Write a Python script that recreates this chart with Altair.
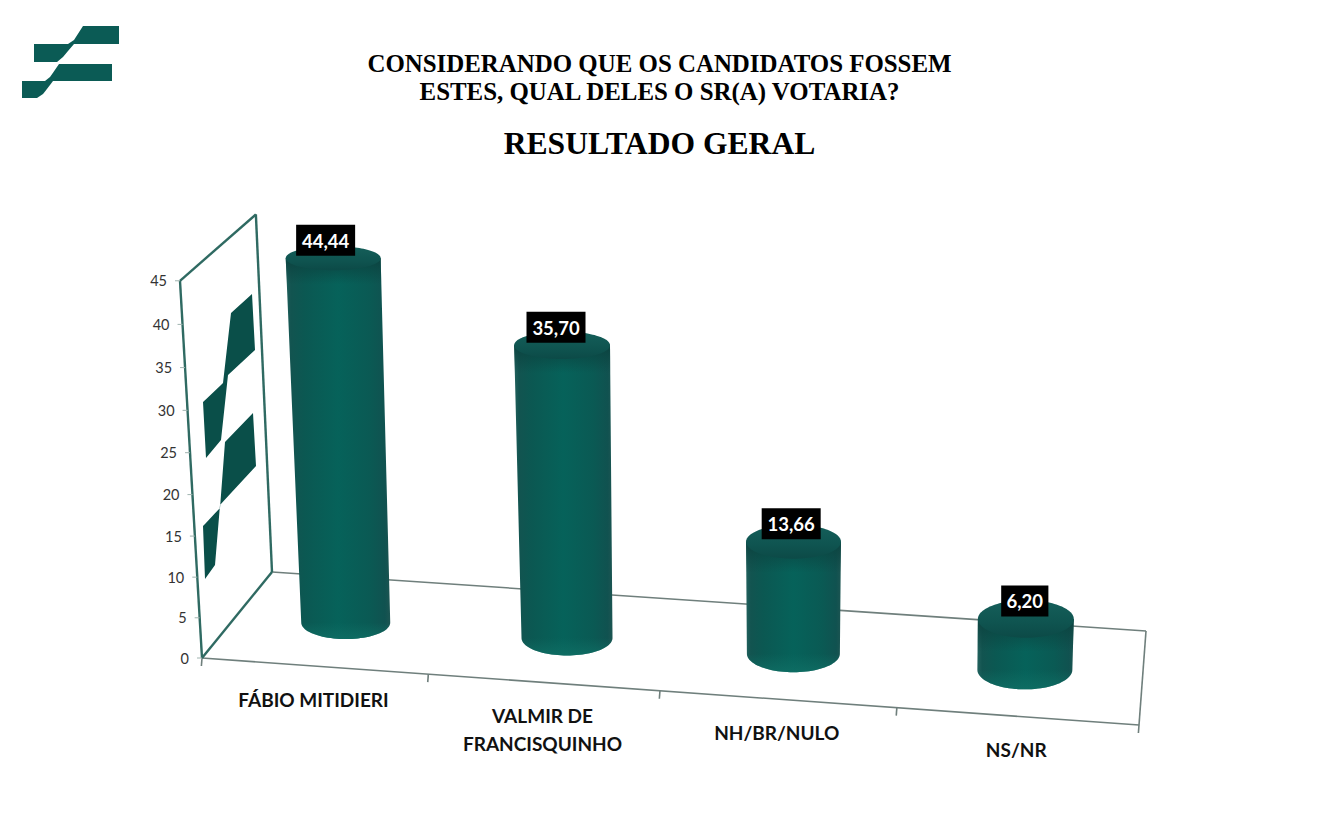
import altair as alt
import numpy as np
import pandas as pd

# ---- chart values ----
CATEGORIES = [["FÁBIO MITIDIERI"], ["VALMIR DE", "FRANCISQUINHO"], ["NH/BR/NULO"], ["NS/NR"]]
VALUES = [44.44, 35.70, 13.66, 6.20]
VALUE_LABELS = ["44,44", "35,70", "13,66", "6,20"]
Y_TICKS = [0, 5, 10, 15, 20, 25, 30, 35, 40, 45]
TITLE_LINES = ["CONSIDERANDO QUE OS CANDIDATOS FOSSEM", "ESTES, QUAL DELES O SR(A) VOTARIA?"]
SUBTITLE = "RESULTADO GERAL"

# ---- logo outlines (upper chain, lower chain) ----
LOGO = [
    ([(34, 44), (68, 44), (74, 40), (83, 26), (119, 26)], [(34, 62), (57, 62), (63, 57), (74, 44), (119, 44)]),
    ([(22, 81), (45, 81), (50, 77), (59, 64), (112, 64)], [(22, 98), (37, 98), (43, 94), (53, 81), (112, 81)]),
]
WALL_LOGO = [
    ([(203, 402), (223, 383), (231, 313), (252, 294), (255, 350)], [(203, 402), (206, 458), (221, 440), (228, 375), (255, 350)]),
    ([(203, 526), (220, 508), (225, 442), (253, 413), (256, 466)], [(203, 526), (205, 579), (215, 565), (220, 505), (256, 466)]),
]

# ---- projection of the 3-D scene ----
FL, FR, BL, BR = (202, 658), (1139, 725), (272, 572), (1146, 631)
W, H = 1304, 810
TEAL, FLOOR = "#2f6a62", "#6f7f7c"


def warp(u):
    return u - 0.045 * u * (1 - u)


def floor(u, d):
    u = warp(u)
    f = np.array(FL) + (np.array(FR) - np.array(FL)) * u
    b = np.array(BL) + (np.array(BR) - np.array(BL)) * u
    return f + (b - f) * d


def wall_y(v):
    return 8.0 * v + 0.0085 * v * v


def wall(v, d):
    base = np.array(FL) + (np.array(BL) - np.array(FL)) * d
    h = wall_y(v) * (1 - 0.052 * d)
    return base[0] - h * (22 - 5 * d) / 377, base[1] - h


X = lambda f: alt.X(f, type="quantitative", scale=alt.Scale(domain=[8, 8 + W], range=[0, W], nice=False, zero=False), axis=None)
Y = lambda f: alt.Y(f, type="quantitative", scale=alt.Scale(domain=[8, 8 + H], range=[0, H], nice=False, zero=False), axis=None)
layers = []


def rules(segs, color, width):
    df = pd.DataFrame(segs, columns=["x", "y", "x2", "y2"])
    layers.append(alt.Chart(df).mark_rule(color=color, strokeWidth=width).encode(
        x=X("x"), y=Y("y"), x2=alt.X2("x2"), y2=alt.Y2("y2")))


def shape(upper, lower, fill):
    xs = sorted({p[0] for p in upper} | {p[0] for p in lower})
    xs = np.array(xs, dtype=float)
    df = pd.DataFrame({
        "x": xs,
        "y": np.interp(xs, [p[0] for p in upper], [p[1] for p in upper]),
        "y2": np.interp(xs, [p[0] for p in lower], [p[1] for p in lower]),
    })
    layers.append(alt.Chart(df).mark_area(color=fill, interpolate="linear").encode(
        x=X("x"), y=Y("y"), y2=alt.Y2("y2")))


def hband(ys, left, right, fill):
    df = pd.DataFrame({"y": ys, "x": left, "x2": right})
    layers.append(alt.Chart(df).mark_area(color=fill, orient="horizontal", interpolate="linear").encode(
        y=Y("y"), x=X("x"), x2=alt.X2("x2")))


def grad(stops, vertical=False):
    return alt.Gradient(
        gradient="linear",
        stops=[alt.GradientStop(color=c, offset=o) for o, c in stops],
        x1=0, y1=0, x2=0 if vertical else 1, y2=1 if vertical else 0,
    )


BODY = grad([(0, "#23625e"), (0.05, "#125450"), (0.18, "#0b5852"), (0.5, "#06625a"),
             (0.8, "#0a5a54"), (0.95, "#105250"), (1, "#1d5552")])
CAP = grad([(0, "#155f5a"), (0.6, "#0f5450"), (1, "#0c4a47")], vertical=True)
SHADE = grad([(0, "rgba(11,66,63,0.95)"), (1, "rgba(11,66,63,0)")], vertical=True)
RIM = grad([(0, "rgba(16,112,102,0)"), (1, "rgba(16,112,102,0.75)")], vertical=True)

# ---- frame ----
floor_segs = [
    (*FL, *FR), (*BL, *BR), (*FR, *BR),
]
for u in [0, 0.25, 0.5, 0.75, 1]:
    p = floor(u, 0)
    floor_segs.append((p[0], p[1], p[0] - 0.6, p[1] + 8))
rules(floor_segs, FLOOR, 1.6)

wall_segs = [(*FL, *BL), (*FL, *wall(45, 0)), (*BL, *wall(45, 1)), (*wall(45, 0), *wall(45, 1))]
rules(wall_segs, TEAL, 2.4)
rules([(*wall(v, 0), wall(v, 0)[0] - 5, wall(v, 0)[1]) for v in Y_TICKS], "#9fb3af", 1)

for up, lo in WALL_LOGO:
    shape(up, lo, "#0a4f49")
for up, lo in LOGO:
    shape(up, lo, "#0b5b55")

# ---- cylinders ----
K = 8.2
boxes, box_text = [], []
for i, v in enumerate(VALUES):
    u = (i + 0.5) / len(VALUES)
    bx, by = floor(u, 0.5)
    tx = bx + (bx - 780) * 6.5e-4 * v
    ty = by - K * v
    rb = 44 + 4 * u
    rt = rb * (1 + 0.0015 * v)
    qb = 16 + 4 * u
    qt = qb * (1 - 0.006 * v)

    # body: straight sides, then lower half of the base ellipse
    ang = np.linspace(0, np.pi / 2, 24)[1:]
    ys1 = np.linspace(ty, by, 30)
    f = (ys1 - ty) / (by - ty)
    cx1, r1 = tx + (bx - tx) * f, rt + (rb - rt) * f
    ys2 = by + qb * np.sin(ang)
    cx2, r2 = bx + 0 * ang, rb * np.cos(ang)
    hband(np.r_[ys1, ys2], np.r_[cx1 - r1, cx2 - r2], np.r_[cx1 + r1, cx2 + r2], BODY)

    # soft shadow under the cap
    n = 24
    ys3 = np.linspace(ty, ty + qt + 14, n)
    f3 = (ys3 - ty) / (by - ty)
    hband(ys3, tx + (bx - tx) * f3 - (rt + (rb - rt) * f3), tx + (bx - tx) * f3 + (rt + (rb - rt) * f3), SHADE)

    # lighter rim at the bottom
    a0 = np.linspace(0, np.pi / 2, 24)[1:]
    hband(np.r_[by, by + qb * np.sin(a0)], np.r_[bx - rb, bx - rb * np.cos(a0)], np.r_[bx + rb, bx + rb * np.cos(a0)], RIM)

    # top ellipse
    a = np.linspace(-np.pi / 2, np.pi / 2, 60)
    hband(ty + qt * np.sin(a), tx - rt * np.cos(a), tx + rt * np.cos(a), CAP)

    # label box
    cx, cy = tx - 0.17 * v, ty - 18
    half = 11.8 * len(VALUE_LABELS[i]) / 2
    boxes.append({"x": cx - half, "x2": cx + half, "y": cy - 15.5, "y2": cy + 15.5})
    box_text.append({"x": cx, "y": cy + 1.5, "t": VALUE_LABELS[i]})

layers.append(alt.Chart(pd.DataFrame(boxes)).mark_rect(color="#000000").encode(
    x=X("x"), x2=alt.X2("x2"), y=Y("y"), y2=alt.Y2("y2")))


def texts(rows, **kw):
    layers.append(alt.Chart(pd.DataFrame(rows)).mark_text(**kw).encode(x=X("x"), y=Y("y"), text="t:N"))


texts(box_text, font="Lato", fontSize=18.5, fontWeight="bold", color="#ffffff", baseline="middle")

# ---- text ----
rows = []
for i, lines in enumerate(CATEGORIES):
    fx, fy = floor((i + 0.5) / len(CATEGORIES), 0)
    for j, line in enumerate(lines):
        rows.append({"x": fx - 1, "y": fy + 34.5 + 28 * j, "t": line})
texts(rows, font="Lato", fontSize=19, fontWeight="bold", color="#111111", baseline="middle")

texts([{"x": wall(v, 0)[0] - 13, "y": wall(v, 0)[1] + 1.5, "t": str(v)} for v in Y_TICKS],
      font="Lato", fontSize=14.5, color="#333333", align="right", baseline="middle")

texts([{"x": 659.5, "y": 65 + 28 * j, "t": t} for j, t in enumerate(TITLE_LINES)],
      font="Liberation Serif", fontSize=24.9, fontWeight="bold", color="#000000", baseline="middle")
texts([{"x": 659.5, "y": 145, "t": SUBTITLE}],
      font="Liberation Serif", fontSize=31.6, fontWeight="bold", color="#000000", baseline="middle")

chart = alt.layer(*layers).properties(
    width=W, height=H, padding=0, autosize=alt.AutoSizeParams(type="none"), background="#ffffff"
).configure_view(stroke=None)

chart.save("out.html", embed_options={"renderer": "svg", "actions": False})
